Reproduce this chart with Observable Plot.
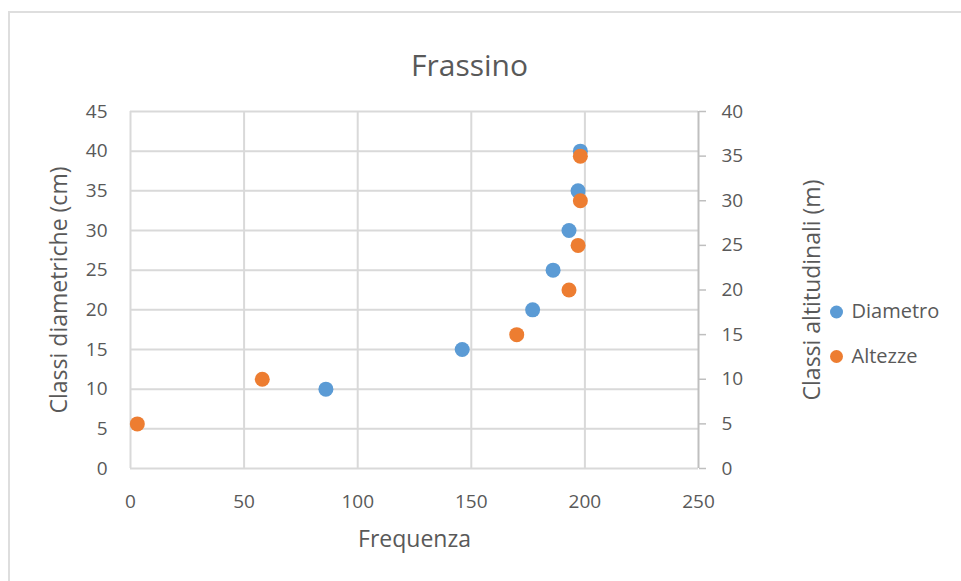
<!DOCTYPE html>
<html>
<head>
<meta charset="utf-8">
<script src="https://cdn.jsdelivr.net/npm/d3@7"></script>
<script src="https://cdn.jsdelivr.net/npm/@observablehq/plot@0.6"></script>
<style>
  html, body { margin: 0; padding: 0; background: #ffffff; overflow: hidden; }
  body { width: 961px; height: 581px; position: relative; font-family: "Open Sans", sans-serif; }
  #frame { position: absolute; left: 8px; top: 11px; width: 1000px; height: 1000px;
           border: 2px solid #dedede; box-sizing: border-box; }
  #chart { position: absolute; left: 0; top: 0; }
</style>
</head>
<body>
<div id="frame"></div>
<div id="chart"></div>
<script>
// Frassino: frequency of diameter classes (left axis, cm) and height classes (right axis, m)
const frequenzaDiametro = [86, 146, 177, 186, 193, 197, 198];
const classiDiametro    = [10, 15, 20, 25, 30, 35, 40];
const frequenzaAltezze  = [3, 58, 170, 193, 197, 198, 198];
const classiAltezze     = [5, 10, 15, 20, 25, 30, 35];

const xTicks     = [0, 50, 100, 150, 200, 250];
const leftTicks  = [0, 5, 10, 15, 20, 25, 30, 35, 40, 45];
const rightTicks = [0, 5, 10, 15, 20, 25, 30, 35, 40];

const series = ["Diametro", "Altezze"];
const colors = ["#5b9bd5", "#ed7d31"];

// the secondary (right) axis runs 0–40 over the same height as the primary 0–45
const leftMax = 45, rightMax = 40;
const toLeft = v => v * leftMax / rightMax;

const diametro = frequenzaDiametro.map((f, i) => ({frequenza: f, classe: classiDiametro[i]}));
const altezze  = frequenzaAltezze.map((f, i) => ({frequenza: f, classe: toLeft(classiAltezze[i])}));

const textColor = "#595959";
const gridColor = "#d9d9d9";
const axisColor = "#bfbfbf";

// legend rows sit beside the plot, one below the other
const legendTop = 22, legendStep = 44.5;

const chart = Plot.plot({
  width: 961,
  height: 581,
  marginLeft: 130,
  marginRight: 263,
  marginTop: 111,
  marginBottom: 113,
  x: {domain: [0, 250]},
  y: {domain: [0, leftMax]},
  style: {fontFamily: "'Open Sans', sans-serif", fontSize: "19px", color: textColor, background: "transparent", overflow: "visible"},
  marks: [
    Plot.gridX(xTicks.slice(1, -1), {stroke: gridColor, strokeOpacity: 1, strokeWidth: 2}),
    Plot.gridY(leftTicks.slice(1), {stroke: gridColor, strokeOpacity: 1, strokeWidth: 2}),
    Plot.ruleY([0], {stroke: gridColor, strokeWidth: 2}),
    Plot.ruleX([0], {stroke: gridColor, strokeWidth: 2}),
    Plot.ruleX([250], {stroke: axisColor, strokeWidth: 2}),
    Plot.axisX(xTicks, {tickSize: 0, tickPadding: 26, label: null, fill: textColor}),
    Plot.axisY(leftTicks, {anchor: "left", tickSize: 0, tickPadding: 23, label: null, fill: textColor}),
    Plot.axisY(rightTicks.map(toLeft), {
      anchor: "right", tickSize: 7, tickPadding: 16, label: null,
      stroke: axisColor, strokeWidth: 1.5, strokeOpacity: 1, fill: textColor,
      tickFormat: d => Math.round(d * rightMax / leftMax)
    }),
    Plot.dot(diametro, {x: "frequenza", y: "classe", r: 7.5, fill: colors[0]}),
    Plot.dot(altezze, {x: "frequenza", y: "classe", r: 7.5, fill: colors[1]}),
    // chart title
    Plot.text(["Frassino"], {frameAnchor: "top", lineAnchor: "middle", dx: 55, dy: -45, fontSize: 30, fill: textColor}),
    // axis titles
    Plot.text(["Frequenza"], {frameAnchor: "bottom", lineAnchor: "middle", dy: 71, fontSize: 23, fill: textColor}),
    Plot.text(["Classi diametriche (cm)"], {frameAnchor: "left", textAnchor: "middle", lineAnchor: "middle", dx: -71, rotate: -90, fontSize: 23, fill: textColor}),
    Plot.text(["Classi altitudinali (m)"], {frameAnchor: "right", textAnchor: "middle", lineAnchor: "middle", dx: 114, rotate: -90, fontSize: 23, fill: textColor}),
    // legend
    ...series.map((s, i) => Plot.dot([s], {frameAnchor: "right", dx: 138, dy: legendTop + i * legendStep, r: 6.5, fill: colors[i]})),
    ...series.map((s, i) => Plot.text([s], {frameAnchor: "right", textAnchor: "start", lineAnchor: "middle", dx: 153, dy: legendTop + i * legendStep, fontSize: 20, fill: textColor}))
  ]
});
document.getElementById("chart").appendChild(chart);
</script>
</body>
</html>
